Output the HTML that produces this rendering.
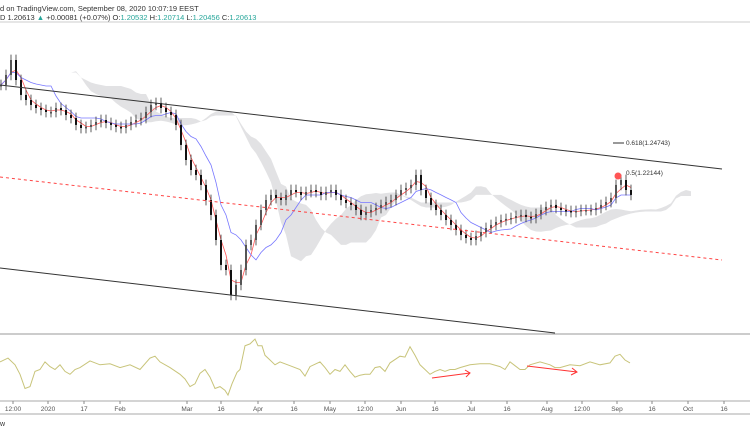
<!DOCTYPE html>
<html><head><meta charset="utf-8"><style>
body{margin:0;background:#fff;width:750px;height:430px;overflow:hidden;font-family:"Liberation Sans",sans-serif}
svg{display:block}
text{font-family:"Liberation Sans",sans-serif}
</style></head><body>
<svg id="c" width="750" height="430">
<text x="0" y="11" font-size="7.5" fill="#333">d on TradingView.com, September 08, 2020 10:07:19 EEST</text>
<text x="0" y="20" font-size="7.5" fill="#333">D 1.20613 <tspan fill="#26a69a">▲</tspan> +0.00081 (+0.07%) O:<tspan fill="#26a69a">1.20532</tspan> H:<tspan fill="#26a69a">1.20714</tspan> L:<tspan fill="#26a69a">1.20456</tspan> C:<tspan fill="#26a69a">1.20613</tspan></text>
<line x1="0" y1="22" x2="750" y2="22" stroke="#ccc"/>
<g id="cloud"></g><g id="lines"></g><g id="candles"></g><g id="osc"></g>
<line x1="0" y1="85" x2="722" y2="169" stroke="#333"/>
<line x1="0" y1="268" x2="555" y2="333" stroke="#333"/>
<line x1="0" y1="177" x2="722" y2="260" stroke="#f44" stroke-dasharray="3,3"/>
<line x1="613" y1="143" x2="624" y2="143" stroke="#333"/>
<text x="626" y="145" font-size="6.5" fill="#333">0.618(1.24743)</text>
<text x="626" y="175" font-size="6.5" fill="#333">0.5(1.22144)</text>
<circle cx="618" cy="176" r="3.5" fill="#f55"/>
<line x1="0" y1="334" x2="750" y2="334" stroke="#999"/>
<g stroke="#f33" fill="none" stroke-width="1">
<path d="M432 378 L470 373 M465 370 L470 373 L466 377"/>
<path d="M527 366 L577 372 M572 368 L577 372 L571 375"/>
</g>
<line x1="0" y1="401" x2="750" y2="401" stroke="#aaa"/>
<line x1="0" y1="414" x2="750" y2="414" stroke="#aaa"/>
<g id="xaxis"></g>
<text x="0" y="426" font-size="7" fill="#333">w</text>
</svg>
<script>
const closes=[1.2863,1.2938,1.305,1.29,1.2788,1.275,1.2713,1.269,1.2675,1.266,1.266,1.269,1.2675,1.2638,1.2615,1.2563,1.254,1.2548,1.2563,1.2585,1.26,1.2578,1.2563,1.2548,1.254,1.2563,1.2585,1.26,1.2615,1.266,1.2713,1.2728,1.269,1.266,1.2638,1.2563,1.2413,1.23,1.2225,1.2188,1.2113,1.2,1.1888,1.17,1.1513,1.1475,1.1288,1.1363,1.1475,1.1663,1.17,1.1813,1.1925,1.2,1.2038,1.2015,1.2,1.2038,1.2075,1.206,1.2038,1.206,1.2075,1.206,1.2038,1.206,1.2075,1.2038,1.2,1.1978,1.1963,1.1925,1.1888,1.191,1.1925,1.194,1.1963,1.1985,1.2,1.2038,1.2075,1.209,1.2113,1.2188,1.2075,1.2015,1.1963,1.1925,1.1888,1.185,1.1813,1.1775,1.1738,1.1715,1.17,1.173,1.176,1.179,1.1813,1.1835,1.185,1.1858,1.1865,1.188,1.1888,1.1873,1.1865,1.1895,1.1925,1.1948,1.1963,1.194,1.1925,1.1918,1.191,1.1918,1.1925,1.1925,1.1925,1.194,1.1963,1.1985,1.2015,1.2113,1.215,1.2075,1.2038];
const oscX=[0,8,15,20,25,30,35,40,45,50,55,60,65,70,75,80,90,100,110,120,130,140,150,155,160,170,180,185,190,195,200,205,210,215,220,225,228,232,237,240,245,250,255,258,262,265,270,275,280,290,300,305,310,320,325,330,335,340,345,350,355,360,365,370,375,380,385,390,400,405,410,415,420,425,430,435,440,445,450,455,460,470,480,490,500,505,510,515,520,525,530,540,550,555,560,570,580,590,600,610,615,620,625,630];
const oscV=[38,42,35,25,10,12,28,30,38,33,30,35,28,25,30,32,39,35,36,32,35,30,42,44,38,32,25,20,12,15,26,30,22,10,12,8,3,15,27,30,55,57,62,55,55,45,40,35,38,34,30,23,33,38,32,25,30,28,35,28,22,24,25,25,32,33,28,37,44,43,54,45,35,30,25,28,30,28,30,30,32,35,36,36,33,30,38,34,30,30,35,38,35,32,32,35,34,38,35,37,44,46,40,37];
const xLabels=["12:00","2020","17","Feb","Mar","16","Apr","16","May","12:00","Jun","16","Jul","16","Aug","12:00","Sep","16","Oct","16"];
const xLabelPos=[13,48,84,120,187,221,258,294,330,365,401,435,471,507,547,582,617,652,688,724];
const NS="http://www.w3.org/2000/svg";
const xC=i=>i*5+1, yP=p=>(1.35-p)/0.00075, yO=v=>398-v*0.95;
function mk(t,a,parent){const e=document.createElementNS(NS,t);for(const k in a)e.setAttribute(k,a[k]);document.getElementById(parent).appendChild(e);return e;}
closes.forEach((c,i)=>{const o=i?closes[i-1]:c;const hi=Math.max(o,c)+0.004,lo=Math.min(o,c)-0.004;
const w=mk('line',{x1:xC(i),x2:xC(i),y1:yP(hi),y2:yP(lo),stroke:'#333','stroke-width':0.8},'candles');


const top=yP(Math.max(o,c)),h=Math.max(1.5,Math.abs(yP(o)-yP(c)));
const b=mk('rect',{x:xC(i)-1,y:top,width:2,height:h,fill:c>=o?'#555':'#111'},'candles');

});
function mid(n,i){const s=closes.slice(Math.max(0,i-n+1),i+1);return (Math.max(...s)+Math.min(...s))/2;}
const ten=closes.map((c,i)=>mid(3,i)), kij=closes.map((c,i)=>mid(9,i));
const pl=(arr,sh)=>arr.map((v,i)=>(xC(i+sh)).toFixed(1)+','+yP(v).toFixed(1)).join(' ');
const sh=12, spA=ten.map((t,i)=>(t+kij[i])/2), spB=closes.map((c,i)=>mid(16,i));
const cl=mk('polygon',{points:pl(spA,sh)+' '+spB.map((v,i)=>(xC(i+sh)).toFixed(1)+','+yP(v).toFixed(1)).reverse().join(' '),fill:'#e2e2e4'},'cloud');


const r=mk('polyline',{points:pl(ten,0),fill:'none',stroke:'#f55','stroke-width':0.8},'lines');


const bl=mk('polyline',{points:pl(kij,0),fill:'none',stroke:'#77f','stroke-width':0.8},'lines');


const os=mk('polyline',{points:oscV.map((v,i)=>oscX[i]+','+yO(v).toFixed(1)).join(' '),fill:'none',stroke:'#c8c47a','stroke-width':1},'osc');


xLabels.forEach((l,i)=>{const t=mk('text',{x:xLabelPos[i],y:411,'font-size':6.5,fill:'#555','text-anchor':'middle'},'xaxis');t.textContent=l;


const k=mk('line',{x1:xLabelPos[i],x2:xLabelPos[i],y1:401,y2:404,stroke:'#888'},'xaxis');

});
</script>
</body></html>
